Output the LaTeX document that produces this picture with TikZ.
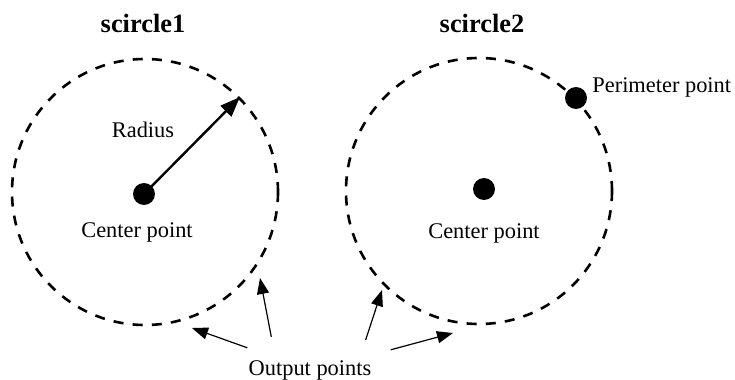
\documentclass[tikz,border=0pt]{standalone}
\usepackage{fontspec}
\setmainfont{Liberation Serif}
\usetikzlibrary{arrows.meta}

\begin{document}
\begin{tikzpicture}[x=0.5pt,y=-0.5pt,
    dot/.style={circle,fill=black,inner sep=0pt,minimum size=11pt},
    ring/.style={circle,draw,dash pattern=on 5pt off 4.6pt,line width=1.3pt,inner sep=0pt,minimum size=133pt},
    lbl/.style={inner sep=0pt,font=\fontsize{11.2}{13}\selectfont},
    ttl/.style={inner sep=0pt,font=\fontsize{13.2}{15}\selectfont\bfseries},
    outarrow/.style={-{Triangle[length=8pt,width=6pt]},line width=0.6pt}]
    \useasboundingbox (0,0) rectangle (735,380);

    % Titles
    \node[ttl] (t1) at (143,23) {scircle1};
    \node[ttl] (t2) at (482,23) {scircle2};

    % Dashed circles
    \node[ring] (circ1) at (145,192) {};
    \node[ring] (circ2) at (479,191) {};

    % Center points
    \node[dot] (c1) at (144,194) {};
    \node[dot] (c2) at (484,189) {};
    \node[lbl] (cl1) at (137,232) {Center point};
    \node[lbl] (cl2) at (484,233) {Center point};

    % Radius
    \draw[-{Triangle[length=10pt,width=7.5pt]}, line width=1.2pt] (c1.center) -- (circ1.45.5);
    \node[lbl] (rad) at (143,130) {Radius};

    % Perimeter point
    \node[dot] (p2) at (576,98) {};
    \node[lbl, anchor=west] (pl) at (592,87) {Perimeter point};

    % Output points
    \node[lbl] (out) at (310,370) {Output points};
    \coordinate (o1) at (192,328);
    \coordinate (o2) at (260,278);
    \coordinate (o3) at (382,290);
    \coordinate (o4) at (453,333);
    \draw[outarrow] ([shift={(-1,-12)}]out.north west) -- (o1);
    \draw[outarrow] ([shift={(23,-23)}]out.north west) -- (o2);
    \draw[outarrow] ([shift={(-6,-20)}]out.north east) -- (o3);
    \draw[outarrow] ([shift={(19,-10)}]out.north east) -- (o4);

\end{tikzpicture}
\end{document}
